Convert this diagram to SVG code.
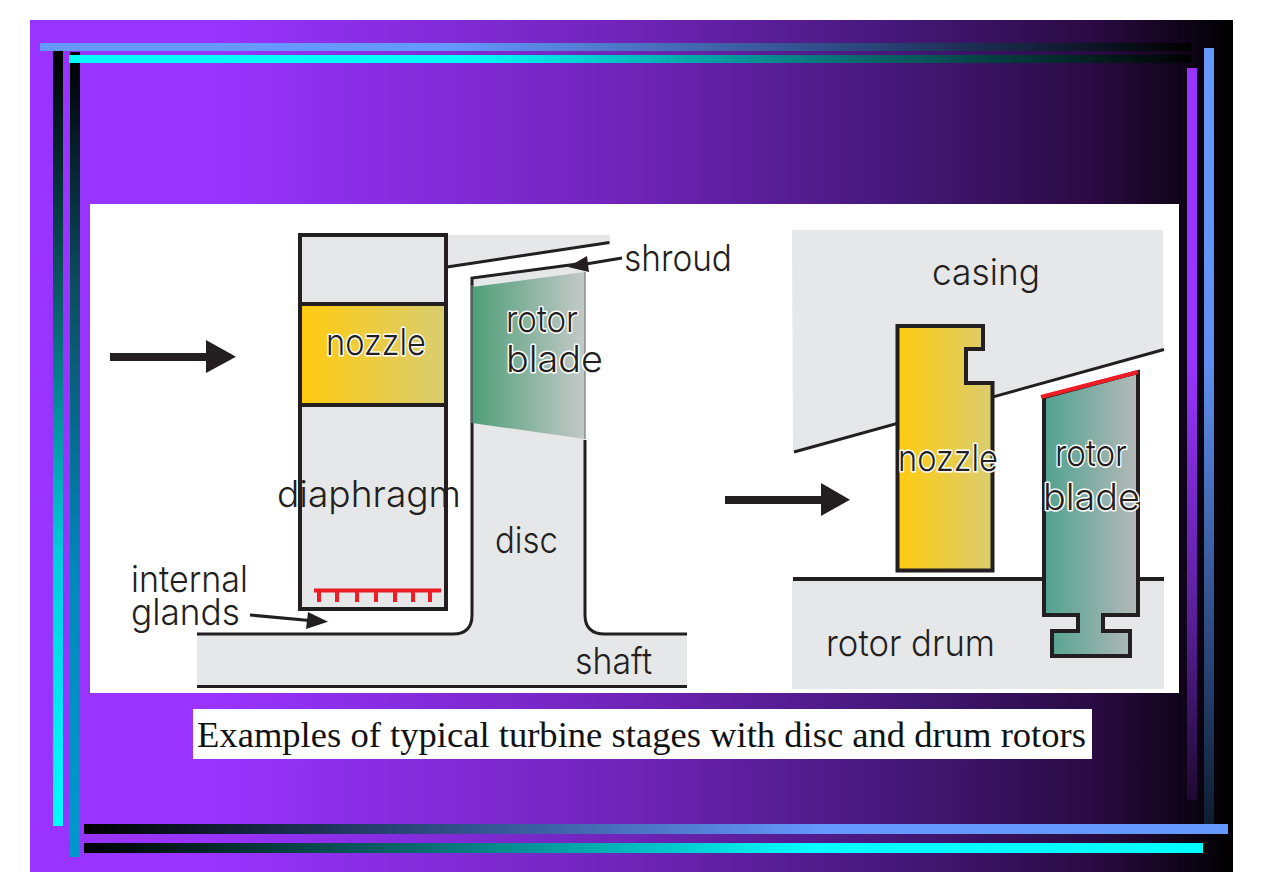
<svg xmlns="http://www.w3.org/2000/svg" width="1263" height="893" viewBox="0 0 1263 893">
<style>
.ink{fill:none;stroke:#231f20;stroke-width:4}
.thin{fill:none;stroke:#231f20;stroke-width:3}
.solid{fill:#231f20}
.metal{fill:#e6e7e9}
.red{fill:none;stroke:#ee1c25}
text{font-family:"Inter","Liberation Sans",sans-serif;font-size:37px;font-weight:300;fill:#231f20}
.halo{paint-order:stroke;stroke:#fff;stroke-width:3px;stroke-linejoin:round}
.caption{font-family:"Liberation Serif",serif;font-size:36px;font-weight:400;fill:#111}
</style>
<defs>
<linearGradient id="bg"><stop offset="0" stop-color="#9933ff"/><stop offset=".15" stop-color="#9933ff"/><stop offset=".5" stop-color="#6f24b8"/><stop offset=".75" stop-color="#3f1670"/><stop offset=".89" stop-color="#280a40"/><stop offset="1" stop-color="#000"/></linearGradient>
<linearGradient id="barBlueOut"><stop offset="0" stop-color="#6699ff"/><stop offset=".35" stop-color="#6699ff"/><stop offset=".7" stop-color="#2d4a80"/><stop offset="1" stop-color="#000"/></linearGradient>
<linearGradient id="barCyanOut"><stop offset="0" stop-color="#00ffff"/><stop offset=".35" stop-color="#00ffff"/><stop offset=".7" stop-color="#0a6a70"/><stop offset="1" stop-color="#000"/></linearGradient>
<linearGradient id="barBlueIn"><stop offset="0" stop-color="#000"/><stop offset=".3" stop-color="#2d4a80"/><stop offset=".65" stop-color="#6699ff"/><stop offset="1" stop-color="#6699ff"/></linearGradient>
<linearGradient id="barCyanIn"><stop offset="0" stop-color="#000"/><stop offset=".3" stop-color="#0a6a70"/><stop offset=".65" stop-color="#00ffff"/><stop offset="1" stop-color="#00ffff"/></linearGradient>
<linearGradient id="sideCyan" x2="0" y2="1"><stop offset="0" stop-color="#000"/><stop offset=".3" stop-color="#0a5560"/><stop offset=".65" stop-color="#00ccdd"/><stop offset="1" stop-color="#00ffff"/></linearGradient>
<linearGradient id="sideTeal" x2="0" y2="1"><stop offset="0" stop-color="#000"/><stop offset=".3" stop-color="#0a5060"/><stop offset=".65" stop-color="#0088bb"/><stop offset="1" stop-color="#0099cc"/></linearGradient>
<linearGradient id="sideViolet" x2="0" y2="1"><stop offset="0" stop-color="#9933ff"/><stop offset=".4" stop-color="#9933ff"/><stop offset=".75" stop-color="#5a1f99"/><stop offset="1" stop-color="#1c0a30"/></linearGradient>
<linearGradient id="sideBlue" x2="0" y2="1"><stop offset="0" stop-color="#6699ff"/><stop offset=".4" stop-color="#5f8ff0"/><stop offset=".75" stop-color="#2d4a80"/><stop offset="1" stop-color="#0c1a2c"/></linearGradient>
<linearGradient id="yellow"><stop offset="0" stop-color="#ffcb10"/><stop offset="1" stop-color="#d9cd70"/></linearGradient>
<linearGradient id="greenA"><stop offset="0" stop-color="#4f9e78"/><stop offset="1" stop-color="#c4c9c8"/></linearGradient>
<linearGradient id="greenB"><stop offset="0" stop-color="#50a28f"/><stop offset="1" stop-color="#b5b9b9"/></linearGradient>
</defs>

<!-- slide background and frame bars -->
<rect x="30" y="20" width="1203" height="852" fill="url(#bg)"/>
<rect x="53" y="51" width="10" height="775" fill="url(#sideCyan)"/>
<rect x="70" y="52" width="10" height="805" fill="url(#sideTeal)"/>
<rect x="1187" y="68" width="10" height="732" fill="url(#sideViolet)"/>
<rect x="1204" y="48" width="10" height="785" fill="url(#sideBlue)"/>
<rect x="40" y="43" width="1151" height="8" fill="url(#barBlueOut)"/>
<rect x="69" y="55" width="1122" height="8" fill="url(#barCyanOut)"/>
<rect x="84" y="824" width="1144" height="10" fill="url(#barBlueIn)"/>
<rect x="84" y="843" width="1119" height="10" fill="url(#barCyanIn)"/>

<!-- figure panel and caption -->
<rect x="90" y="204" width="1089" height="489" fill="#fff"/>
<rect x="193" y="709" width="899" height="50" fill="#fff"/>
<text class="caption" x="197" y="746.500" textLength="889" lengthAdjust="spacingAndGlyphs">Examples of typical turbine stages with disc and drum rotors</text>

<!-- disc rotor stage -->
<g id="disc-casing">
<polygon class="metal" points="448,235 610,235 610,242.5 448,267"/>
<line class="thin" x1="447" y1="267" x2="609.500" y2="242.500"/>
</g>
<g id="disc-shaft">
<path class="metal" d="M473,278 L585,263 V615 Q585,634 605,634 H687 V686 H197 V634 H453 Q472,634 472,615 Z"/>
<path class="thin" d="M197,634 H453 Q472,634 472,615 V278 L585,263"/>
<path class="thin" d="M585,440 V615 Q585,634 605,634 H687"/>
<line class="thin" x1="197" y1="686.500" x2="687" y2="686.500"/>
</g>
<g id="disc-rotor-blade">
<path d="M472,287 L585,272 V439 L472,423 Z" fill="url(#greenA)"/>
<line x1="585" y1="272" x2="585" y2="439" stroke="#8a8d8d" stroke-width="1.500"/>
<line x1="472" y1="285" x2="472" y2="423" stroke="#4a6a5c" stroke-width="2"/>
<text class="halo" x="506" y="332" textLength="72" lengthAdjust="spacingAndGlyphs">rotor</text>
<text class="halo" x="506" y="372" textLength="97" lengthAdjust="spacingAndGlyphs">blade</text>
</g>
<g id="diaphragm">
<rect class="metal" x="300" y="235" width="146" height="374"/>
<rect x="301" y="305" width="144" height="99" fill="url(#yellow)"/>
<rect class="ink" x="300" y="235" width="146" height="374"/>
<line class="ink" x1="300" y1="304" x2="446" y2="304"/>
<line class="ink" x1="300" y1="405" x2="446" y2="405"/>
<text class="halo" x="326" y="355" textLength="100" lengthAdjust="spacingAndGlyphs">nozzle</text>
<text x="277" y="507" textLength="184" lengthAdjust="spacingAndGlyphs">diaphragm</text>
<path class="red" stroke-width="4" d="M314,590.500 H441 M319,590 V602 M337,590 V602 M357,590 V602 M376,590 V602 M395,590 V602 M413,590 V602 M430,590 V602"/>
</g>
<text x="495" y="553" textLength="63" lengthAdjust="spacingAndGlyphs">disc</text>
<text x="131" y="592" textLength="117" lengthAdjust="spacingAndGlyphs">internal</text>
<text x="131" y="625" textLength="109" lengthAdjust="spacingAndGlyphs">glands</text>
<text x="624" y="271" textLength="108" lengthAdjust="spacingAndGlyphs">shroud</text>
<text x="575" y="674" textLength="77" lengthAdjust="spacingAndGlyphs">shaft</text>

<!-- drum rotor stage -->
<g id="drum-casing">
<polygon class="metal" points="792,230 1163,230 1163,350 793,452"/>
<line class="thin" x1="794" y1="452" x2="1164" y2="349.500"/>
<text x="932" y="285" textLength="108" lengthAdjust="spacingAndGlyphs">casing</text>
</g>
<g id="drum">
<rect class="metal" x="792" y="579" width="372" height="110"/>
<line class="ink" x1="793" y1="579" x2="1164" y2="579"/>
<text x="826" y="656" textLength="169" lengthAdjust="spacingAndGlyphs">rotor drum</text>
</g>
<g id="drum-nozzle">
<path class="ink" style="fill:url(#yellow)" d="M897.500,326 H983 V349 H966 V383 H992.500 V570.500 H897.500 Z"/>
<text class="halo" x="898" y="471" textLength="100" lengthAdjust="spacingAndGlyphs">nozzle</text>
</g>
<g id="drum-rotor-blade">
<path class="ink" style="fill:url(#greenB)" d="M1044,397 L1138,372 V615 H1103 V631 H1130 V656 H1052 V631 H1078 V615 H1044 Z"/>
<line class="red" stroke-width="4" x1="1041" y1="397" x2="1138" y2="372"/>
<text class="halo" x="1055" y="466" textLength="72" lengthAdjust="spacingAndGlyphs">rotor</text>
<text class="halo" x="1043" y="510" textLength="97" lengthAdjust="spacingAndGlyphs">blade</text>
</g>

<!-- flow direction and leader arrows -->
<g id="connectors">
<path class="solid" d="M110,353 H206 V340 L236,356.700 L206,373 V361 H110 Z"/>
<path class="solid" d="M725,496 H821 V483 L850,499.700 L821,516 V504 H725 Z"/>
<line class="thin" x1="622" y1="258" x2="580" y2="265"/>
<polygon class="solid" points="568,267 587,256 589,272"/>
<line class="thin" x1="250" y1="615" x2="315" y2="621"/>
<polygon class="solid" points="328,621.700 308,612 306,629"/>
</g>
</svg>
